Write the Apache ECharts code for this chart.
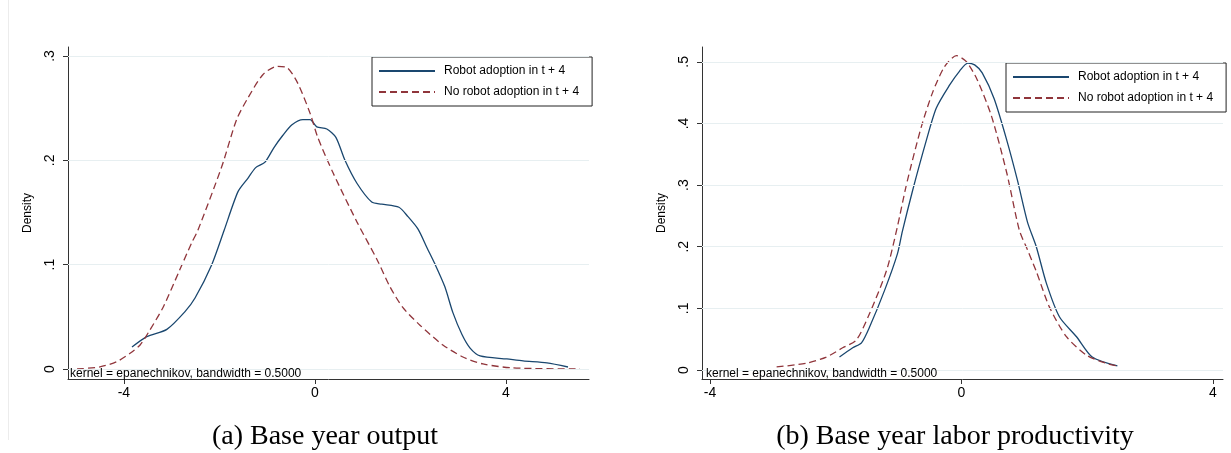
<!DOCTYPE html>
<html>
<head>
<meta charset="utf-8">
<script src="https://cdn.jsdelivr.net/npm/echarts@6/dist/echarts.min.js"></script>
<style>
html,body{margin:0;padding:0;background:#fff;}
#chart{width:1231px;height:453px;}
</style>
</head>
<body>
<div id="chart"></div>
<script>
// ---- Data ----
const seriesNames = ['Robot adoption in t + 4', 'No robot adoption in t + 4'];

// Panel (a): Base year output
const outputRobot = [[-3.83,0.021],[-3.52,0.031],[-3.10,0.038],[-2.72,0.055],[-2.51,0.068],[-2.16,0.100],[-1.90,0.133],[-1.61,0.170],[-1.40,0.183],[-1.24,0.193],[-1.05,0.198],[-0.86,0.212],[-0.67,0.224],[-0.48,0.234],[-0.25,0.239],[-0.10,0.239],[0.04,0.232],[0.25,0.230],[0.44,0.222],[0.63,0.200],[0.88,0.178],[1.19,0.160],[1.40,0.158],[1.76,0.155],[1.95,0.146],[2.16,0.134],[2.35,0.116],[2.51,0.101],[2.72,0.079],[2.89,0.054],[3.08,0.033],[3.25,0.020],[3.46,0.0125],[4.02,0.0096],[4.36,0.0077],[4.86,0.0058],[5.30,0.0019]];
const outputNoRobot = [[-4.98,0.000],[-4.50,0.002],[-4.15,0.007],[-3.87,0.015],[-3.66,0.023],[-3.46,0.037],[-3.18,0.059],[-2.83,0.095],[-2.58,0.121],[-2.45,0.133],[-1.95,0.194],[-1.64,0.239],[-1.40,0.260],[-1.09,0.282],[-0.80,0.290],[-0.59,0.289],[-0.36,0.274],[-0.10,0.245],[0.06,0.222],[0.38,0.188],[0.88,0.141],[1.30,0.105],[1.57,0.079],[1.84,0.059],[2.20,0.042],[2.68,0.023],[3.10,0.0115],[3.52,0.0048],[4.15,0.001],[5.55,0.000]];

// Panel (b): Base year labor productivity
const prodRobot = [[-1.94,0.021],[-1.73,0.036],[-1.59,0.044],[-1.46,0.070],[-1.22,0.130],[-1.02,0.188],[-0.94,0.225],[-0.78,0.290],[-0.56,0.372],[-0.40,0.425],[-0.19,0.462],[-0.03,0.485],[0.10,0.498],[0.21,0.495],[0.33,0.482],[0.52,0.440],[0.72,0.373],[0.89,0.308],[1.05,0.240],[1.19,0.200],[1.35,0.141],[1.56,0.086],[1.83,0.054],[2.08,0.021],[2.48,0.0065]];
const prodNoRobot = [[-2.94,0.005],[-2.46,0.011],[-2.15,0.021],[-1.89,0.036],[-1.67,0.049],[-1.46,0.092],[-1.19,0.162],[-1.02,0.232],[-0.87,0.303],[-0.64,0.394],[-0.46,0.450],[-0.27,0.492],[-0.08,0.510],[0.08,0.500],[0.25,0.471],[0.48,0.411],[0.72,0.320],[0.92,0.227],[1.05,0.195],[1.19,0.160],[1.40,0.102],[1.67,0.054],[1.99,0.024],[2.30,0.011],[2.48,0.0065]];

const xTicks = [-4, 0, 4];
const yTicksA = [0, 0.1, 0.2, 0.3];
const yTicksB = [0, 0.1, 0.2, 0.3, 0.4, 0.5];
const noteText = 'kernel = epanechnikov, bandwidth = 0.5000';
const captions = ['(a) Base year output', '(b) Base year labor productivity'];
const yTitle = 'Density';

// ---- Styles ----
const BLUE = '#1a476f';
const RED = '#90353b';
const AXIS = '#333333';
const GRIDC = '#e7eff1';
const SANS = 'Liberation Sans, Arial, sans-serif';
const SERIF = 'Liberation Serif, Times New Roman, serif';

const fmtY = v => v === 0 ? '0' : String(+v.toFixed(1)).replace(/^0/, '');

function xAxisCfg(gi, min, max) {
  return {
    type: 'value', gridIndex: gi, min: min, max: max,
    axisLine: {show: true, onZero: false, lineStyle: {color: AXIS, width: 1}},
    axisTick: {show: true, length: 5, customValues: xTicks, lineStyle: {color: AXIS}},
    axisLabel: {customValues: xTicks, margin: 7, fontSize: 14, color: '#000', fontFamily: SANS},
    splitLine: {show: false}
  };
}
function yAxisCfg(gi, min, max, ticks) {
  return {
    type: 'value', gridIndex: gi, min: min, max: max,
    name: yTitle, nameLocation: 'middle', nameGap: 34, nameRotate: 90,
    nameTextStyle: {fontSize: 12, color: '#000', fontFamily: SANS},
    axisLine: {show: true, onZero: false, lineStyle: {color: AXIS, width: 1}},
    axisTick: {show: true, length: 5, customValues: ticks, lineStyle: {color: AXIS}},
    axisLabel: {customValues: ticks, rotate: 90, margin: 11, fontSize: 14, color: '#000', fontFamily: SANS, formatter: fmtY},
    splitLine: {show: false}
  };
}
function gridLines(gi, ticks) {
  return {
    type: 'line', xAxisIndex: gi, yAxisIndex: gi, data: [], silent: true, z: 1,
    markLine: {
      silent: true, symbol: ['none', 'none'], animation: false,
      label: {show: false},
      lineStyle: {color: GRIDC, type: 'solid', width: 1},
      data: ticks.map(t => ({yAxis: t}))
    }
  };
}
function curve(gi, name, data, color, dashed) {
  return {
    type: 'line', name: name, xAxisIndex: gi, yAxisIndex: gi, data: data,
    symbol: 'none', smooth: 0.25, z: 3,
    lineStyle: {color: color, width: 1.3, type: dashed ? [7, 4] : 'solid'},
    itemStyle: {color: color}
  };
}
function legendCfg(left, top) {
  return {
    left: left, top: top, orient: 'vertical', data: seriesNames,
    itemWidth: 56, itemHeight: 12, itemGap: 9,
    padding: [8, 13, 8, 6],
    borderColor: '#222', borderWidth: 1, backgroundColor: '#fff', borderRadius: 0,
    itemStyle: {color: 'rgba(0,0,0,0)', borderColor: 'rgba(0,0,0,0)', borderWidth: 0, opacity: 0},
    textStyle: {fontSize: 12, color: '#000', fontFamily: SANS, padding: [0, 0, 0, 4]},
    selectedMode: false
  };
}

const chart = echarts.init(document.getElementById('chart'), null, {renderer: 'canvas'});
chart.setOption({
  animation: false,
  backgroundColor: '#fff',
  grid: [
    {left: 68, top: 47, width: 521, height: 332},
    {left: 702, top: 47, width: 521, height: 332}
  ],
  xAxis: [xAxisCfg(0, -5.17, 5.74), xAxisCfg(1, -4.127, 4.16)],
  yAxis: [yAxisCfg(0, -0.0096, 0.3086, yTicksA), yAxisCfg(1, -0.0146, 0.524, yTicksB)],
  legend: [legendCfg(372, 57), legendCfg(1006, 63)],
  series: [
    gridLines(0, yTicksA),
    gridLines(1, yTicksB),
    curve(0, seriesNames[0], outputRobot, BLUE, false),
    curve(0, seriesNames[1], outputNoRobot, RED, true),
    curve(1, seriesNames[0], prodRobot, BLUE, false),
    curve(1, seriesNames[1], prodNoRobot, RED, true)
  ],
  graphic: [
    {type: 'line', shape: {x1: 8.5, y1: 0, x2: 8.5, y2: 440}, style: {stroke: '#ececec', lineWidth: 1}, silent: true},
    {type: 'text', left: 70, top: 368, z: 10, style: {text: noteText, font: '12px ' + SANS, fill: '#000'}, silent: true},
    {type: 'text', left: 706, top: 368, z: 10, style: {text: noteText, font: '12px ' + SANS, fill: '#000'}, silent: true},
    {type: 'text', x: 325, y: 437, style: {text: captions[0], font: '28px ' + SERIF, fill: '#000', textAlign: 'center', textVerticalAlign: 'middle'}, silent: true},
    {type: 'text', x: 955, y: 437, style: {text: captions[1], font: '28px ' + SERIF, fill: '#000', textAlign: 'center', textVerticalAlign: 'middle'}, silent: true}
  ]
});
</script>
</body>
</html>
